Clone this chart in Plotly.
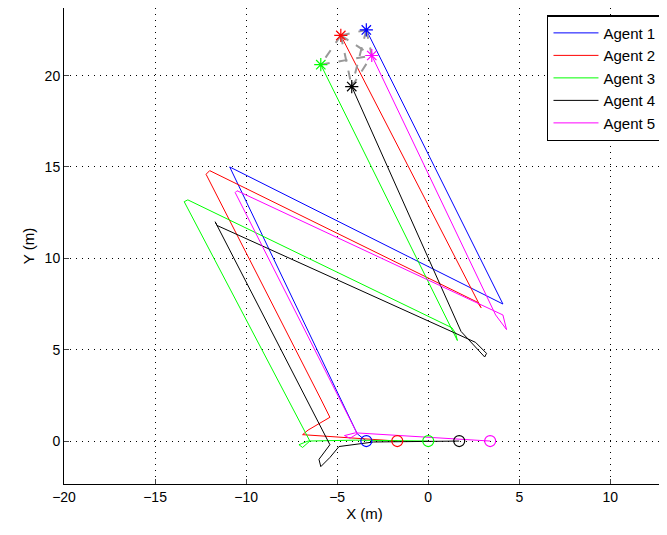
import plotly.graph_objects as go

# waypoints (x, y in metres)
agent1_x = [-3.4, -3.9, -10.9, 4.1, -3.4]
agent1_y = [0.0, 0.4, 15.0, 7.5, 22.5]
agent2_x = [-1.7, -4.5, -6.9, -6.6, -5.4, -5.9, -12.2, -12.0, 2.7, 2.9, -4.8]
agent2_y = [0.0, 0.2, 0.35, 0.6, 1.3, 2.3, 14.6, 14.8, 7.6, 7.3, 22.2]
agent3_x = [0.0, -4.0, -6.6, -7.1, -6.9, -6.5, -13.4, -13.2, 1.3, 1.5, 1.6, -5.9]
agent3_y = [0.0, 0.05, 0.0, -0.2, -0.35, 0.0, 13.1, 13.2, 6.2, 5.9, 5.5, 20.6]
agent4_x = [1.7, -3.0, -4.9, -5.4, -5.9, -6.0, -5.4, -11.7, -11.6, 2.6, 3.2, 3.1, 1.8, -4.2]
agent4_y = [0.0, -0.05, -0.3, -0.9, -1.4, -1.0, -0.2, 12.0, 11.8, 5.4, 4.8, 4.6, 6.0, 19.4]
agent5_x = [3.4, -2.0, -4.0, -4.6, -4.3, -3.9, -10.6, -10.5, 4.1, 4.3, 3.7, -3.1]
agent5_y = [0.0, 0.3, 0.45, 0.3, 0.15, 0.4, 13.6, 13.7, 6.9, 6.1, 6.9, 21.1]

names = ["Agent 1", "Agent 2", "Agent 3", "Agent 4", "Agent 5"]
colors = ["rgb(0,0,255)", "rgb(255,0,0)", "rgb(0,255,0)", "rgb(0,0,0)", "rgb(255,0,255)"]
paths = [(agent1_x, agent1_y), (agent2_x, agent2_y), (agent3_x, agent3_y),
         (agent4_x, agent4_y), (agent5_x, agent5_y)]

# formation links between final positions (agent index pairs)
links = [(1, 0), (1, 2), (1, 3), (0, 4), (2, 4), (3, 4), (0, 3), (1, 4)]

fig = go.Figure()

for (px, py), name, c in zip(paths, names, colors):
    fig.add_trace(go.Scatter(x=px, y=py, mode="lines", name=name,
                             line=dict(color=c, width=1)))

for a, b in links:
    fig.add_trace(go.Scatter(
        x=[paths[a][0][-1], paths[b][0][-1]], y=[paths[a][1][-1], paths[b][1][-1]],
        mode="lines", line=dict(color="#999999", width=2, dash="dash"),
        showlegend=False, hoverinfo="skip"))

for (px, py), name, c in zip(paths, names, colors):
    fig.add_trace(go.Scatter(x=[px[0]], y=[py[0]], mode="markers", showlegend=False,
                             marker=dict(symbol="circle-open", size=11, color=c,
                                         line=dict(width=1.2, color=c))))
    fig.add_trace(go.Scatter(x=[px[-1]], y=[py[-1]], mode="markers", showlegend=False,
                             marker=dict(symbol="asterisk-open", size=11, color=c,
                                         line=dict(width=1.2, color=c))))

axis = dict(showline=True, linecolor="black", mirror=True, ticks="inside",
            ticklen=5, showgrid=True, gridcolor="black", griddash="1px,5px",
            gridwidth=1, zeroline=False, tickfont=dict(size=14), automargin=False)
fig.update_xaxes(axis, range=[-20, 13], dtick=5,
                 title=dict(text="X (m)", font=dict(size=15), standoff=4))
fig.update_yaxes(axis, range=[-2.35, 23.7], dtick=5,
                 title=dict(text="Y (m)", font=dict(size=15), standoff=6))

# page body adds an 8px offset, so the figure is sized to land where the reference does
fig.update_layout(
    width=659, height=527,
    margin=dict(l=56, r=2, t=0, b=51),
    plot_bgcolor="white", paper_bgcolor="white",
    font=dict(family="Liberation Sans, Arial", color="black"),
    legend=dict(x=0.995, y=0.985, xanchor="right", yanchor="top",
                bordercolor="black", borderwidth=1.5, bgcolor="white",
                font=dict(size=15), itemwidth=45, tracegroupgap=0),
)

fig.write_html("out.html")
